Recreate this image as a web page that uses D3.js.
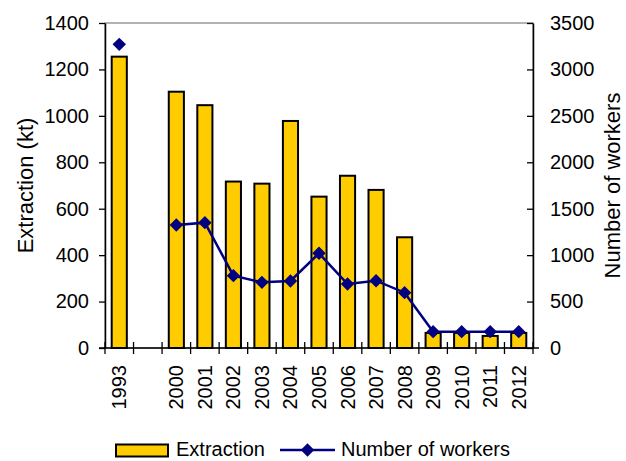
<!DOCTYPE html>
<html>
<head>
<meta charset="utf-8">
<script src="https://cdn.jsdelivr.net/npm/d3@7"></script>
<style>
  html, body { margin: 0; padding: 0; background: #fff; }
  svg { display: block; font-family: "Liberation Sans", Arial, sans-serif; }
</style>
</head>
<body>
<svg id="chart" width="626" height="461"></svg>
<script>
// Years shown on the category axis; the blank entry leaves an empty slot between 1993 and 2000
const years = ["1993", "", "2000", "2001", "2002", "2003", "2004", "2005", "2006", "2007", "2008", "2009", "2010", "2011", "2012"];
// Extraction in kilotonnes (left axis)
const extraction = [1255, null, 1104, 1046, 717, 708, 978, 652, 742, 681, 477, 65, 65, 52, 65];
// Number of workers (right axis)
const workers = [3270, null, 1325, 1350, 779, 707, 722, 1020, 689, 725, 596, 176, 176, 176, 176];
// Axis ticks
const leftTicks = [0, 200, 400, 600, 800, 1000, 1200, 1400];
const rightTicks = [0, 500, 1000, 1500, 2000, 2500, 3000, 3500];

const svg = d3.select("#chart");
const plot = { left: 105, right: 533, top: 23, bottom: 348 };

const x = d3.scaleBand().domain(d3.range(years.length)).range([plot.left, plot.right]);
const yL = d3.scaleLinear().domain([0, 1400]).range([plot.bottom, plot.top]);
const yR = d3.scaleLinear().domain([0, 3500]).range([plot.bottom, plot.top]);

const rows = years.map((yr, i) => ({ i, yr, ext: extraction[i], wrk: workers[i] }));
const plain = d3.format("d");

// Plot area frame
svg.append("rect")
  .attr("x", plot.left).attr("y", plot.top)
  .attr("width", plot.right - plot.left).attr("height", plot.bottom - plot.top)
  .attr("fill", "none").attr("stroke", "#808080").attr("stroke-width", 1.2);

// Extraction bars
const barW = x.bandwidth() * 0.53;
svg.append("g").selectAll("rect")
  .data(rows.filter(d => d.ext != null))
  .join("rect")
  .attr("x", d => x(d.i) + (x.bandwidth() - barW) / 2)
  .attr("y", d => yL(d.ext))
  .attr("width", barW)
  .attr("height", d => yL(0) - yL(d.ext))
  .attr("fill", "#FFCC00")
  .attr("stroke", "#000")
  .attr("stroke-width", 2);

// Left axis
const gL = svg.append("g")
  .attr("transform", `translate(${plot.left},0)`)
  .call(d3.axisLeft(yL).tickValues(leftTicks).tickFormat(plain).tickSize(6).tickPadding(10).tickSizeOuter(0));
gL.select(".domain").attr("stroke-width", 1.5);
gL.selectAll(".tick line").attr("stroke-width", 1.3);
gL.selectAll("text").attr("font-size", 20).attr("fill", "#000");

// Right axis
const gR = svg.append("g")
  .attr("transform", `translate(${plot.right},0)`)
  .call(d3.axisRight(yR).tickValues(rightTicks).tickFormat(plain).tickSize(-6).tickPadding(17).tickSizeOuter(0));
gR.select(".domain").attr("stroke-width", 1.5);
gR.selectAll(".tick line").attr("stroke-width", 1.3);
gR.selectAll("text").attr("font-size", 20).attr("fill", "#000");

// Category axis: line, boundary ticks and rotated year labels
const gX = svg.append("g").attr("transform", `translate(0,${plot.bottom})`);
gX.append("line")
  .attr("x1", plot.left - 6).attr("x2", plot.right + 6)
  .attr("y1", 0).attr("y2", 0)
  .attr("stroke", "#000").attr("stroke-width", 1.5);
const bounds = d3.range(years.length + 1).map(i => i < years.length ? x(i) : plot.right);
gX.selectAll("line.bt")
  .data(bounds)
  .join("line")
  .attr("class", "bt")
  .attr("x1", d => d).attr("x2", d => d)
  .attr("y1", -6).attr("y2", 6)
  .attr("stroke", "#000").attr("stroke-width", 1.3);
gX.selectAll("text")
  .data(rows.filter(d => d.yr !== ""))
  .join("text")
  .attr("transform", d => `translate(${x(d.i) + x.bandwidth() / 2},17) rotate(-90)`)
  .attr("text-anchor", "end")
  .attr("dy", "0.35em")
  .attr("font-size", 20)
  .text(d => d.yr);

// Workers line (breaks across the empty slot)
const line = d3.line()
  .defined(d => d.wrk != null)
  .x(d => x(d.i) + x.bandwidth() / 2)
  .y(d => yR(d.wrk));
svg.append("path")
  .datum(rows)
  .attr("d", line)
  .attr("fill", "none")
  .attr("stroke", "#000080")
  .attr("stroke-width", 2.5);

const diamond = d3.symbol(d3.symbolSquare, 90);
svg.append("g").selectAll("path")
  .data(rows.filter(d => d.wrk != null))
  .join("path")
  .attr("d", diamond)
  .attr("transform", d => `translate(${x(d.i) + x.bandwidth() / 2},${yR(d.wrk)}) rotate(45)`)
  .attr("fill", "#000080");

// Axis titles
svg.append("text")
  .attr("transform", `translate(25,${(plot.top + plot.bottom) / 2}) rotate(-90)`)
  .attr("text-anchor", "middle").attr("dy", "0.35em")
  .attr("font-size", 22)
  .text("Extraction (kt)");
svg.append("text")
  .attr("transform", `translate(612,${(plot.top + plot.bottom) / 2}) rotate(-90)`)
  .attr("text-anchor", "middle").attr("dy", "0.35em")
  .attr("font-size", 22)
  .text("Number of workers");

// Legend
const lg = svg.append("g").attr("transform", "translate(0,450)");
lg.append("rect")
  .attr("x", 116).attr("y", -5.5).attr("width", 52).attr("height", 12)
  .attr("fill", "#FFCC00").attr("stroke", "#000").attr("stroke-width", 2);
lg.append("text")
  .attr("x", 176).attr("y", 0).attr("dy", "0.32em")
  .attr("font-size", 20)
  .text("Extraction");
lg.append("line")
  .attr("x1", 280).attr("x2", 335).attr("y1", 0).attr("y2", 0)
  .attr("stroke", "#000080").attr("stroke-width", 2.5);
lg.append("path")
  .attr("d", diamond)
  .attr("transform", "translate(307.5,0) rotate(45)")
  .attr("fill", "#000080");
lg.append("text")
  .attr("x", 341).attr("y", 0).attr("dy", "0.32em")
  .attr("font-size", 20)
  .text("Number of workers");
</script>
</body>
</html>
